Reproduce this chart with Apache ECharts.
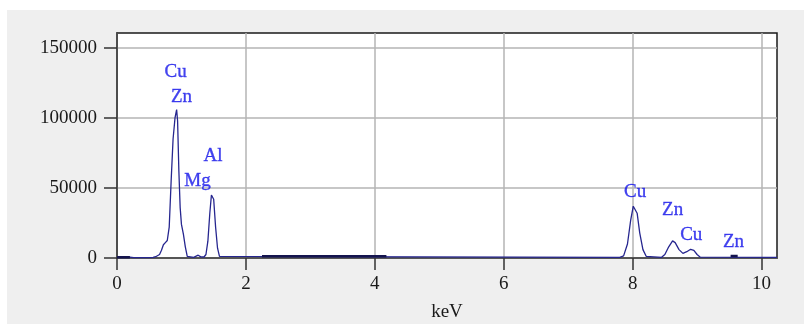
<!DOCTYPE html>
<html>
<head>
<meta charset="utf-8">
<script src="https://cdn.jsdelivr.net/npm/echarts@6/dist/echarts.min.js"></script>
<style>
html,body{margin:0;padding:0;background:#ffffff;}
#wrap{position:relative;width:804px;height:324px;background:#ffffff;overflow:hidden;}
#chart{position:absolute;left:7px;top:10px;width:797px;height:314px;background:#efefef;}
</style>
</head>
<body>
<div id="wrap"><div id="chart"></div></div>
<script>
// Spectrum (keV, counts)
const keV = [0.00,0.20,0.22,0.26,0.28,0.30,0.50,0.53,0.56,0.60,0.63,0.66,0.69,0.72,0.75,0.78,0.81,0.84,0.87,0.90,0.925,0.94,0.96,0.98,1.00,1.03,1.06,1.09,1.12,1.19,1.22,1.26,1.30,1.35,1.38,1.41,1.44,1.465,1.48,1.50,1.53,1.56,1.59,1.62,7.80,7.86,7.92,7.97,8.01,8.04,8.07,8.11,8.16,8.21,8.24,8.45,8.50,8.56,8.62,8.66,8.72,8.78,8.84,8.90,8.95,9.00,9.05,10.24];
const counts = [600,600,300,300,1400,300,300,1000,400,900,1200,2500,5500,9500,11000,12500,22000,55000,85000,100000,106000,98000,62000,36000,24000,17000,8000,1200,500,500,1800,2000,800,700,2500,12000,32000,45000,45500,42000,22000,7000,1200,500,500,1500,10000,27000,37000,38000,32000,18000,6000,1200,500,500,2500,8000,12200,11000,6000,3300,4500,6200,5500,2500,600,500];
// Dark background/ROI segments (null separates segments)
const segKeV = [0.00,0.20,null,2.25,4.18,null,9.52,9.63];
const segCounts = [500,500,null,1300,1300,null,1400,1400];
// Element labels
const labelNames = ['Cu','Zn','Al','Mg','Cu','Zn','Cu','Zn'];
const labelKeV = [0.91,1.00,1.49,1.25,8.04,8.62,8.91,9.565];
const labelCounts = [133000,115200,72900,55000,47400,34300,16400,11600];
// Ticks
const xTicks = [0,2,4,6,8,10];
const yTicks = [0,50000,100000,150000];

const serif = '"Liberation Serif","DejaVu Serif",serif';
const chart = echarts.init(document.getElementById('chart'), null, {renderer:'canvas'});
chart.setOption({
  animation:false,
  backgroundColor:'#efefef',
  grid:{left:110,top:23,right:27,bottom:66,containLabel:false,outerBoundsMode:'none',show:true,backgroundColor:'#ffffff',borderColor:'#1a1a1a',borderWidth:1.5},
  xAxis:{
    type:'value',min:0,max:10.24,interval:2,
    name:'keV',nameLocation:'middle',nameGap:45,
    nameTextStyle:{fontFamily:serif,fontSize:19,color:'#1a1a1a'},
    axisLine:{show:true,onZero:false,lineStyle:{color:'#555555',width:2}},
    axisTick:{show:true,length:12,customValues:xTicks,lineStyle:{color:'#333333',width:1.5}},
    axisLabel:{customValues:xTicks,margin:17,fontFamily:serif,fontSize:19,color:'#1a1a1a',formatter:v=>String(v)},
    splitLine:{show:true,lineStyle:{color:'#b4b4b4',width:1.5}}
  },
  yAxis:{
    type:'value',min:0,max:160700,interval:50000,
    axisLine:{show:true,lineStyle:{color:'#333333',width:1.5}},
    axisTick:{show:true,length:13,customValues:yTicks,lineStyle:{color:'#333333',width:1.5}},
    axisLabel:{customValues:yTicks,margin:20,fontFamily:serif,fontSize:19,color:'#1a1a1a',formatter:v=>String(v)},
    splitLine:{show:true,lineStyle:{color:'#b4b4b4',width:1.5}}
  },
  series:[
    {type:'line',data:keV.map((k,i)=>[k,counts[i]]),showSymbol:false,symbol:'none',
     lineStyle:{color:'#26268f',width:1.3},z:3},
    {type:'line',data:segKeV.map((k,i)=>k===null?[null,null]:[k,segCounts[i]]),showSymbol:false,symbol:'none',connectNulls:false,
     lineStyle:{color:'#14144e',width:2.5},z:4},
    {type:'scatter',data:labelKeV.map((k,i)=>({value:[k,labelCounts[i]],name:labelNames[i]})),
     symbolSize:2,itemStyle:{color:'rgba(0,0,0,0)'},z:5,
     label:{show:true,position:'inside',formatter:p=>p.name,fontFamily:serif,fontSize:19,color:'#1414ea',textBorderColor:'#1414ea',textBorderWidth:0.35}}
  ]
});
</script>
</body>
</html>
